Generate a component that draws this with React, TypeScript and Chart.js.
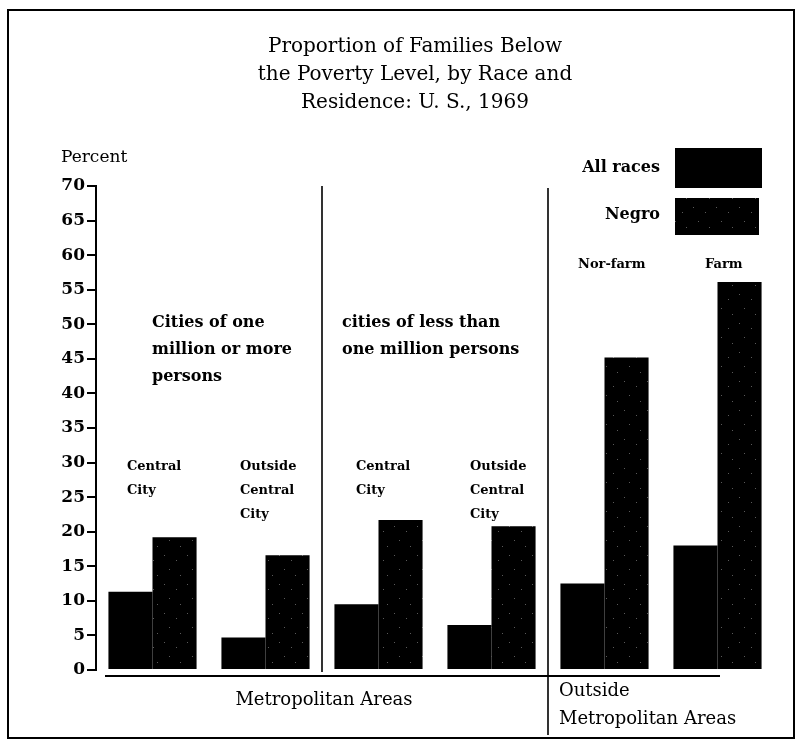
import React, { useEffect, useRef } from "react";
import { Chart, registerables } from "chart.js";

Chart.register(...registerables);

const categories = [
  "Metro 1M+ Central City",
  "Metro 1M+ Outside Central City",
  "Metro <1M Central City",
  "Metro <1M Outside Central City",
  "Outside Metro Non-farm",
  "Outside Metro Farm",
];
const allRaces = [11.3, 4.7, 9.5, 6.5, 12.5, 18.0];
const negro = [19.2, 16.6, 21.7, 20.8, 45.2, 56.1];
const yTicks = [0, 5, 10, 15, 20, 25, 30, 35, 40, 45, 50, 55, 60, 65, 70];
const titleLines = [
  "Proportion of Families Below",
  "the Poverty Level, by Race and",
  "Residence: U. S., 1969",
];
const seriesNames = ["All races", "Negro"];

const SERIF = '"DejaVu Serif", "Liberation Serif", serif';

function makePattern(): CanvasPattern | string {
  const c = document.createElement("canvas");
  c.width = 23;
  c.height = 29;
  const g = c.getContext("2d");
  if (!g) return "#000";
  g.fillStyle = "#000";
  g.fillRect(0, 0, 23, 29);
  g.fillStyle = "#5a5a5a";
  const dots = [
    [3, 4],
    [15, 9],
    [8, 18],
    [19, 24],
  ];
  dots.forEach(([x, y]) => g.fillRect(x, y, 1, 1));
  const p = g.createPattern(c, "repeat");
  return p || "#000";
}

export default function App() {
  const ref = useRef<HTMLCanvasElement | null>(null);
  useEffect(() => {
    const canvas = ref.current;
    if (!canvas) return;
    const pattern = makePattern();

    const deco = {
      id: "deco",
      beforeDraw(chart: any) {
        const ctx = chart.ctx;
        ctx.save();
        ctx.fillStyle = "#fff";
        ctx.fillRect(0, 0, chart.width, chart.height);
        ctx.restore();
      },
      afterDraw(chart: any) {
        const ctx = chart.ctx;
        const xs = chart.scales.x;
        const ys = chart.scales.y;
        const ca = chart.chartArea;
        ctx.save();
        ctx.fillStyle = "#000";
        ctx.strokeStyle = "#000";
        ctx.textBaseline = "middle";

        // frame
        ctx.lineWidth = 2;
        ctx.strokeRect(8, 10, 786, 728);

        // title
        ctx.font = `20px ${SERIF}`;
        ctx.textAlign = "center";
        titleLines.forEach((t, i) => ctx.fillText(t, 415, 47 + i * 28));

        // y axis caption
        ctx.textAlign = "left";
        ctx.font = `17px ${SERIF}`;
        ctx.fillText("Percent", 61, 158);

        // legend
        ctx.font = `bold 16px ${SERIF}`;
        ctx.textAlign = "right";
        ctx.fillText(seriesNames[0], 660, 168);
        ctx.fillText(seriesNames[1], 660, 215);
        ctx.fillStyle = "#000";
        ctx.fillRect(675, 148, 87, 40);
        ctx.fillStyle = pattern as any;
        ctx.fillRect(675, 198, 84, 37);
        ctx.fillStyle = "#000";

        // dividers
        const div1 = (xs.getPixelForValue(1) + xs.getPixelForValue(2)) / 2;
        const div2 = (xs.getPixelForValue(3) + xs.getPixelForValue(4)) / 2;
        ctx.lineWidth = 1.6;
        ctx.beginPath();
        ctx.moveTo(div1, ca.top);
        ctx.lineTo(div1, ca.bottom + 2);
        ctx.moveTo(div2, ca.top + 2);
        ctx.lineTo(div2, 735);
        ctx.stroke();

        // baseline under bars
        ctx.lineWidth = 2;
        ctx.beginPath();
        ctx.moveTo(105, ca.bottom + 6);
        ctx.lineTo(720, ca.bottom + 6);
        ctx.stroke();

        // group headings
        ctx.textAlign = "left";
        ctx.font = `bold 16px ${SERIF}`;
        const yH = ys.getPixelForValue(50.2);
        ["Cities of one", "million or more", "persons"].forEach((t, i) =>
          ctx.fillText(t, 152, yH + i * 27)
        );
        ["cities of less than", "one million persons"].forEach((t, i) =>
          ctx.fillText(t, 342, yH + i * 27)
        );

        // sub labels
        ctx.font = `bold 13px ${SERIF}`;
        const yS = ys.getPixelForValue(29.4);
        const sub1 = ["Central", "City"];
        const sub2 = ["Outside", "Central", "City"];
        [
          [127, sub1],
          [240, sub2],
          [356, sub1],
          [470, sub2],
        ].forEach(([x, lines]: any) =>
          lines.forEach((t: string, i: number) => ctx.fillText(t, x, yS + i * 24))
        );
        const yF = ys.getPixelForValue(58.7);
        ctx.fillText("Nor-farm", 578, yF);
        ctx.fillText("Farm", 705, yF);

        // bottom labels
        ctx.font = `18px ${SERIF}`;
        ctx.textAlign = "center";
        ctx.fillText("Metropolitan Areas", 324, 700);
        ctx.textAlign = "left";
        ctx.fillText("Outside", 559, 691);
        ctx.fillText("Metropolitan Areas", 559, 719);
        ctx.restore();
      },
    };

    const chart = new Chart(canvas, {
      type: "bar",
      data: {
        labels: categories,
        datasets: [
          {
            label: seriesNames[0],
            data: allRaces,
            backgroundColor: "#000",
            borderWidth: 0,
          },
          {
            label: seriesNames[1],
            data: negro,
            backgroundColor: pattern as any,
            borderWidth: 0,
          },
        ],
      },
      options: {
        responsive: false,
        animation: false,
        events: [],
        layout: { padding: { left: 0, top: 186, right: 28, bottom: 72 } },
        datasets: {
          bar: { categoryPercentage: 0.78, barPercentage: 1.0 },
        },
        plugins: {
          legend: { display: false },
          title: { display: false },
          tooltip: { enabled: false },
        },
        scales: {
          x: { display: false, offset: true },
          y: {
            min: 0,
            max: 70,
            afterFit: (s: any) => {
              s.width = 96;
            },
            afterBuildTicks: (s: any) => {
              s.ticks = yTicks.map((v) => ({ value: v }));
            },
            border: { display: true, color: "#000", width: 2 },
            grid: {
              drawOnChartArea: false,
              drawTicks: true,
              tickLength: 9,
              color: "#000",
              lineWidth: 2,
            },
            ticks: {
              color: "#000",
              padding: 2,
              font: { family: SERIF, size: 17, weight: "bold" },
            },
          },
        },
      },
      plugins: [deco],
    });
    return () => chart.destroy();
  }, []);

  return (
    <div style={{ position: "fixed", left: 0, top: 0, width: 802, height: 742, background: "#fff" }}>
      <canvas ref={ref} width={802} height={742} style={{ width: 802, height: 742, display: "block" }} />
    </div>
  );
}
